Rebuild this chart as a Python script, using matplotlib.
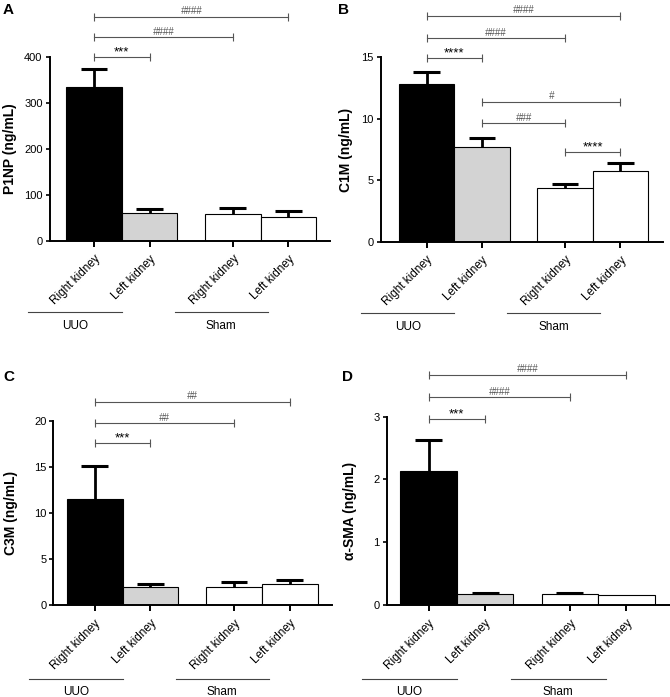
import matplotlib.pyplot as plt
import numpy as np

plt.rcParams['font.family'] = ['Liberation Sans', 'DejaVu Sans']

groups = ["UUO", "Sham"]
tick_labels = ["Right kidney", "Left kidney", "Right kidney", "Left kidney"]
bar_colors = ["black", "#d3d3d3", "white", "white"]

p1np = [333, 60, 57, 51]
p1np_err = [41, 9, 15, 13.5]
c1m = [12.83, 7.73, 4.39, 5.78]
c1m_err = [1.0, 0.68, 0.28, 0.65]
c3m = [11.5, 1.92, 1.99, 2.28]
c3m_err = [3.6, 0.36, 0.48, 0.44]
asma = [2.13, 0.17, 0.17, 0.155]
asma_err = [0.5, 0.02, 0.02, 0.0]

# (from bar, to bar, height, label)
sig_a = [(0, 1, 400, "***"), (0, 2, 442, "####"), (0, 3, 487, "####")]
sig_b = [(0, 1, 14.92, "****"), (0, 2, 16.55, "####"), (0, 3, 18.36, "####"),
         (1, 3, 11.39, "#"), (1, 2, 9.63, "###"), (2, 3, 7.32, "****")]
sig_c = [(0, 1, 17.6, "***"), (0, 2, 19.75, "##"), (0, 3, 22.1, "##")]
sig_d = [(0, 1, 2.96, "***"), (0, 2, 3.31, "####"), (0, 3, 3.67, "####")]

x = np.array([0, 1, 2.5, 3.5])

fig = plt.figure(figsize=(6.7, 6.97), dpi=100)

panels = [
    ("A", [0.0739, 0.6547, 0.4187, 0.264], p1np, p1np_err, "P1NP (ng/mL)",
     [0, 100, 200, 300, 400], (-0.8, 4.25), sig_a, -0.116, -0.389, -0.463),
    ("B", [0.5682, 0.6532, 0.4214, 0.2646], c1m, c1m_err, "C1M (ng/mL)",
     [0, 5, 10, 15], (-0.83, 4.27), sig_b, -0.098, -0.389, -0.463),
    ("C", [0.0796, 0.132, 0.4155, 0.264], c3m, c3m_err, "C3M (ng/mL)",
     [0, 5, 10, 15, 20], (-0.74, 4.25), sig_c, -0.126, -0.404, -0.471),
    ("D", [0.5772, 0.132, 0.4228, 0.2702], asma, asma_err, "α-SMA (ng/mL)",
     [0, 1, 2, 3], (-0.74, 4.27), sig_d, -0.106, -0.395, -0.460),
]
letter_pos = {"A": (3, 10), "B": (338, 10), "C": (3, 377), "D": (342, 377)}

for name, rect, vals, errs, ylab, yt, xl, sig, ylx, line_y, text_y in panels:
    ax = fig.add_axes(rect)
    vals = np.array(vals)
    errs = np.array(errs)
    ax.bar(x, vals, width=1.0, color=bar_colors, edgecolor="black", linewidth=0.8, zorder=2)
    # upward error bars only
    has = errs > 0
    ax.vlines(x[has], vals[has], (vals + errs)[has], color="black", linewidth=2.0, zorder=3)
    ax.hlines((vals + errs)[has], x[has] - 0.24, x[has] + 0.24, color="black", linewidth=2.2, zorder=3)

    ax.set_xlim(*xl)
    ax.set_ylim(yt[0], yt[-1])
    ax.set_yticks(yt)
    ax.set_xticks(x)
    ax.set_xticklabels(tick_labels, rotation=45, ha="right", rotation_mode="anchor", fontsize=8.5)
    ax.tick_params(axis="y", labelsize=8, length=3, width=1.2, pad=2)
    ax.tick_params(axis="x", length=4, width=1.4, pad=5)
    for s in ["top", "right"]:
        ax.spines[s].set_visible(False)
    ax.spines["left"].set_linewidth(1.4)
    ax.spines["bottom"].set_linewidth(1.4)
    ax.set_ylabel(ylab, fontsize=10, fontweight="bold")
    ax.yaxis.set_label_coords(ylx, 0.5)

    # significance brackets
    for i, j, h, lab in sig:
        ax.plot([x[i], x[j]], [h, h], color="#555555", linewidth=0.8,
                marker="|", markersize=6, markeredgewidth=0.8, clip_on=False)
        star = lab.startswith("*")
        ax.annotate(lab, ((x[i] + x[j]) / 2, h), xytext=(0, -1 if star else 0.5),
                    textcoords="offset points",
                    ha="center", va="bottom", fontsize=9.5 if star else 7,
                    color="black" if star else "#555555",
                    style="normal" if star else "italic", annotation_clip=False)

    # group lines
    trans = ax.get_xaxis_transform()
    for g, (a, b) in zip(groups, [(-1.18, 0.5), (1.45, 3.13)]):
        ax.plot([a, b], [line_y, line_y], color="#444444", linewidth=0.8,
                transform=trans, clip_on=False)
        ax.text((a + b) / 2, text_y, g, transform=trans, ha="center", va="center", fontsize=8.5)

    lx, ly = letter_pos[name]
    fig.text(lx / 670, 1 - ly / 697, name, fontsize=11, fontweight="bold", ha="left", va="center")

fig.savefig("out.png", dpi=100)
